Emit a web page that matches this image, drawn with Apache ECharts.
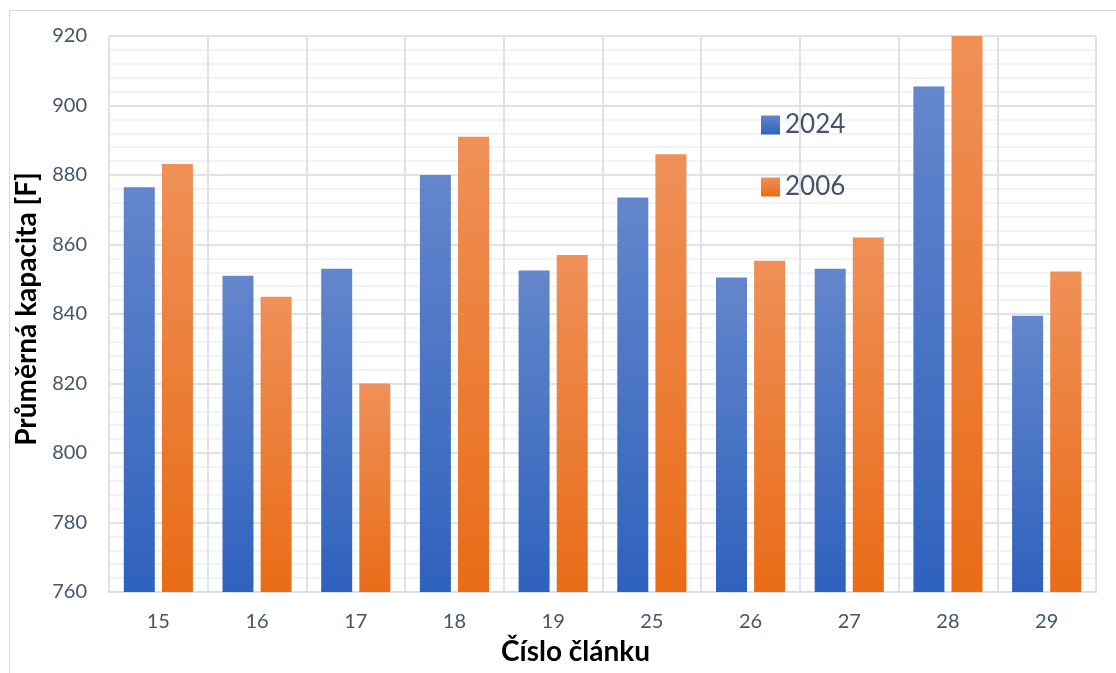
<!DOCTYPE html>
<html><head><meta charset="utf-8">
<script src="https://cdn.jsdelivr.net/npm/echarts@6/dist/echarts.min.js"></script>
<style>html,body{margin:0;padding:0;background:#fff}#c{width:1116px;height:673px}</style>
</head><body><div id="c"></div>
<script>
const categories = ['15','16','17','18','19','25','26','27','28','29'];
const values2024 = [876.5, 851, 853, 880, 852.5, 873.5, 850.5, 853, 905.5, 839.5];
const values2006 = [883.2, 845, 820, 891, 857, 886, 855.3, 862, 920, 852.2];
const seriesNames = ['2024', '2006'];
const FONT = 'Lato, "Open Sans", sans-serif';
function grad(top, bottom){
  return new echarts.graphic.LinearGradient(0,0,0,1,[{offset:0,color:top},{offset:1,color:bottom}]);
}
const chart = echarts.init(document.getElementById('c'));
chart.setOption({
  animation:false,
  backgroundColor:'#fff',
  textStyle:{fontFamily:FONT},
  graphic:[{type:'rect',shape:{x:9.5,y:10.5,width:1200,height:700},style:{fill:'none',stroke:'#d9d9d9',lineWidth:1},z:-1}],
  grid:{left:109,right:20,top:36,bottom:81},
  legend:{orient:'vertical',left:756,top:107,itemWidth:19,itemHeight:19,itemGap:36,icon:'rect',
    textStyle:{fontSize:26,color:'#44546a',fontFamily:FONT},data:seriesNames},
  xAxis:{type:'category',data:categories,
    axisLine:{show:true,lineStyle:{color:'#d9dee5',width:2}},
    axisTick:{show:false},
    axisLabel:{fontSize:20,color:'#44546a',margin:20,fontFamily:FONT},
    splitLine:{show:true,interval:0,lineStyle:{color:'#dfe3e8',width:2}},
    name:'Číslo článku',nameLocation:'middle',nameGap:46,
    nameTextStyle:{fontSize:28,fontWeight:'bold',color:'#000',fontFamily:FONT,padding:[0,54,0,0]}},
  yAxis:{type:'value',min:760,max:920,interval:20,
    axisLine:{show:false},axisTick:{show:false},
    axisLabel:{fontSize:20,color:'#44546a',margin:22,fontFamily:FONT},
    splitLine:{show:true,lineStyle:{color:'#dfe3e8',width:2}},
    minorTick:{show:false,splitNumber:5},
    minorSplitLine:{show:true,lineStyle:{color:'#f2f3f5',width:2}},
    name:'Průměrná kapacita [F]',nameLocation:'middle',nameGap:58,
    nameTextStyle:{fontSize:28,fontWeight:'bold',color:'#000',fontFamily:FONT,padding:[0,0,0,10]}},
  series:[
    {name:seriesNames[0],type:'bar',data:values2024,barWidth:31,barGap:'23%',
      itemStyle:{color:grad('#6486cc','#2f62bd')}},
    {name:seriesNames[1],type:'bar',data:values2006,barWidth:31,
      itemStyle:{color:grad('#f09058','#e96c17')}}
  ]
});
</script></body></html>
